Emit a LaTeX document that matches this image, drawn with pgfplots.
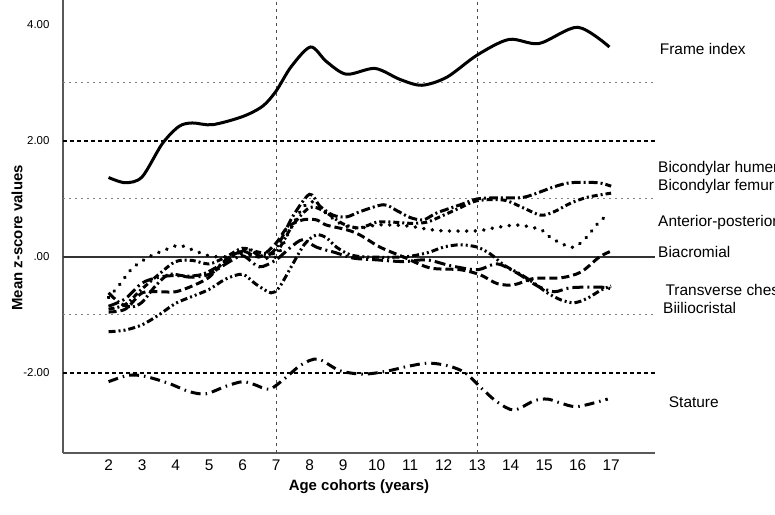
\documentclass[border=0pt]{standalone}
\usepackage{fontspec}
\setmainfont{Liberation Sans}
\usepackage{pgfplots}
\pgfplotsset{compat=1.18}

\begin{document}
\begin{tikzpicture}
\begin{axis}[
  name=ax,
  scale only axis,
  width=592bp, height=453bp,
  xmin=0.64, xmax=18.31, ymin=-3.38, ymax=4.43,
  axis x line=bottom, axis y line=left,
  axis line style={-, draw=gray!70!black, line width=1.2bp},
  xtick={2,...,17}, ytick={-2,0,2,4},
  yticklabels={-2.00,.00,2.00,4.00},
  /pgf/number format/assume math mode=true,
  major tick length=0pt,
  x tick label style={font=\fontsize{15.5}{15.5}\selectfont, yshift=-3bp},
  y tick label style={font=\fontsize{11.5}{11.5}\selectfont, xshift=-10bp},
  xlabel={Age cohorts (years)}, ylabel={Mean z-score values},
  every axis x label/.style={at={(axis description cs:0.5,0)}, anchor=center, yshift=-34bp, font=\bfseries\fontsize{15}{15}\selectfont},
  every axis y label/.style={at={(axis description cs:0,0.475)}, anchor=center, rotate=90, yshift=46bp, font=\bfseries\fontsize{15}{15}\selectfont},
  clip=false,
  every axis plot/.append style={line width=3bp, black},
]
% reference lines
\addplot[gray, line width=1bp, dash pattern=on 2bp off 4bp] coordinates {(0.64,3) (18.31,3)};
\addplot[gray, line width=1bp, dash pattern=on 2bp off 4bp] coordinates {(0.64,1) (18.31,1)};
\addplot[gray, line width=1bp, dash pattern=on 2bp off 4bp] coordinates {(0.64,-1) (18.31,-1)};
\addplot[black, line width=1.6bp, dash pattern=on 4bp off 3bp] coordinates {(0.64,2) (18.31,2)};
\addplot[black, line width=1.6bp, dash pattern=on 4bp off 3bp] coordinates {(0.64,-2) (18.31,-2)};
\addplot[black!80, line width=1.4bp] coordinates {(0.64,0) (18.31,0)};
\addplot[black!70, line width=0.9bp, dash pattern=on 3bp off 4bp] coordinates {(7,-3.38) (7,4.43)};
\addplot[black!70, line width=0.9bp, dash pattern=on 3bp off 4bp] coordinates {(13,-3.38) (13,4.43)};

% Frame index
\addplot[smooth, solid] coordinates {
(2,1.37) (2.5,1.28) (3,1.38) (3.6,1.95) (4.1,2.25) (4.5,2.31) (5.1,2.28) (6,2.42) (6.6,2.6)
(7,2.86) (7.45,3.28) (8.03,3.62) (8.5,3.37) (9.1,3.15) (9.95,3.25) (10.7,3.06) (11.35,2.96)
(12.1,3.1) (13,3.48) (13.95,3.75) (14.85,3.68) (16.0,3.96) (16.95,3.62)};

% Stature
\addplot[smooth, dash pattern=on 10bp off 5bp on 1.5bp off 5bp] coordinates {
(2,-2.15) (2.6,-2.04) (3.1,-2.06) (3.8,-2.18) (4.4,-2.32) (4.9,-2.36) (5.5,-2.23) (6.0,-2.15)
(6.35,-2.2) (6.8,-2.28) (7.25,-2.1) (7.75,-1.86) (8.25,-1.76) (8.9,-1.96) (9.6,-2.02) (10.3,-1.97)
(10.9,-1.89) (11.55,-1.83) (12.15,-1.88) (12.65,-2.0) (13.2,-2.3) (13.6,-2.5) (14.1,-2.64)
(14.7,-2.48) (15.1,-2.45) (15.5,-2.52) (16.0,-2.58) (16.9,-2.45)};

% Bicondylar humerus
\addplot[smooth, dash pattern=on 9bp off 3bp on 2bp off 3bp] coordinates {
(2,-0.62) (2.35,-0.8) (2.7,-0.86) (3.0,-0.78) (3.4,-0.5) (3.8,-0.3) (4.3,-0.33) (4.8,-0.3)
(5.3,-0.15) (5.8,0.05) (6.2,0.12) (6.6,0.0) (7.0,0.15) (7.5,0.7) (8.0,1.08) (8.3,0.88)
(8.7,0.72) (9.1,0.69) (9.5,0.78) (10.2,0.9) (10.6,0.8) (11.0,0.68) (11.4,0.64) (11.8,0.76)
(12.5,0.9) (13.0,1.0) (13.6,1.02) (14.4,1.03) (15.3,1.21) (15.8,1.28) (16.6,1.28) (17,1.22)};

% Bicondylar femur
\addplot[smooth, dash pattern=on 6bp off 3bp on 2bp off 3bp] coordinates {
(2,-0.9) (2.5,-0.82) (3,-0.55) (3.5,-0.3) (4,-0.08) (4.5,-0.06) (5,-0.12) (5.5,0.0) (6,0.15)
(6.5,0.08) (7,0.08) (7.5,0.55) (8.0,0.85) (8.4,0.8) (9,0.57) (9.5,0.5) (10,0.6) (10.5,0.6)
(11,0.58) (11.5,0.6) (12,0.72) (12.5,0.85) (13,0.97) (13.8,0.98) (14.4,0.84) (14.9,0.72)
(15.3,0.78) (15.8,0.93) (16.3,1.03) (17,1.1)};

% Anterior-posterior chest
\addplot[smooth, line cap=round, dash pattern=on 0.1bp off 8.5bp, line width=3.8bp] coordinates {
(2,-0.7) (2.3,-0.5) (2.7,-0.2) (3.2,0.0) (3.6,0.1) (4.1,0.2) (4.6,0.1) (5,0.02) (5.5,0.0)
(6,0.05) (6.5,0.0) (7,0.0) (7.4,0.45) (7.8,0.85) (8.1,0.95) (8.5,0.75) (9.0,0.55) (9.5,0.5)
(10,0.55) (10.5,0.55) (11,0.53) (11.5,0.48) (12,0.45) (13,0.45) (13.5,0.5) (14.2,0.55)
(14.9,0.47) (15.2,0.33) (15.6,0.21) (15.9,0.17) (16.25,0.33) (16.7,0.64) (17,0.72)};

% Biacromial
\addplot[smooth, dash pattern=on 8bp off 4bp] coordinates {
(2,-0.95) (2.5,-0.9) (3,-0.62) (3.5,-0.6) (4,-0.6) (4.5,-0.5) (5,-0.35) (5.5,-0.05) (6,0.1)
(6.5,0.0) (7,0.24) (7.35,0.52) (7.8,0.64) (8.2,0.64) (8.5,0.55) (9.1,0.47) (9.5,0.38)
(10.1,0.17) (10.8,0.0) (11.6,-0.19) (12.5,-0.22) (13.1,-0.31) (13.6,-0.46) (14.1,-0.48)
(14.7,-0.37) (15.5,-0.36) (16.1,-0.26) (16.65,0.0) (17,0.1)};

% Transverse chest
\addplot[smooth, dash pattern=on 11bp off 4bp on 2bp off 4bp] coordinates {
(2,-0.85) (2.5,-0.72) (3,-0.45) (3.5,-0.35) (4,-0.32) (4.5,-0.35) (5,-0.3) (5.5,-0.12)
(6,0.02) (6.5,-0.17) (7,-0.05) (7.4,0.15) (7.8,0.3) (8.2,0.17) (8.8,0.07) (9.3,-0.02)
(10,-0.05) (10.8,-0.08) (11.5,-0.05) (12.2,-0.15) (13.0,-0.22) (13.6,-0.12) (14.2,-0.28)
(14.8,-0.5) (15.3,-0.6) (15.8,-0.53) (16.7,-0.52) (17,-0.55)};

% Biiliocristal
\addplot[smooth, dash pattern=on 7bp off 3bp on 2bp off 3bp on 2bp off 3bp] coordinates {
(2,-1.29) (2.5,-1.26) (3,-1.17) (3.5,-1.0) (4,-0.8) (4.5,-0.68) (5,-0.56) (5.5,-0.38)
(6,-0.3) (6.4,-0.47) (6.85,-0.62) (7.1,-0.52) (7.5,-0.12) (7.85,0.22) (8.2,0.38) (8.5,0.33)
(8.8,0.17) (9.2,0.04) (9.7,0.0) (10.8,0.0) (11.5,0.07) (12,0.17) (12.5,0.21) (13,0.17)
(13.4,0.05) (13.8,-0.14) (14.3,-0.3) (14.7,-0.45) (15.1,-0.62) (15.5,-0.74) (15.9,-0.79)
(16.3,-0.71) (16.7,-0.57) (17,-0.5)};

\begin{scope}[every node/.style={anchor=west, font=\fontsize{15.5}{15.5}\selectfont, inner sep=0pt}]
\node at (axis cs:18.45,3.59) {Frame index};
\node at (axis cs:18.4,1.53) {Bicondylar humerus};
\node at (axis cs:18.4,1.21) {Bicondylar femur};
\node at (axis cs:18.4,0.60) {Anterior-posterior chest};
\node at (axis cs:18.4,0.09) {Biacromial};
\node at (axis cs:18.62,-0.57) {Transverse chest};
\node at (axis cs:18.55,-0.88) {Biiliocristal};
\node at (axis cs:18.72,-2.5) {Stature};
\end{scope}
\end{axis}
\pgfresetboundingbox
\path[use as bounding box] ([xshift=-63bp,yshift=-62bp]ax.south west) rectangle ([xshift=120bp]ax.north east);
\end{tikzpicture}
\end{document}
